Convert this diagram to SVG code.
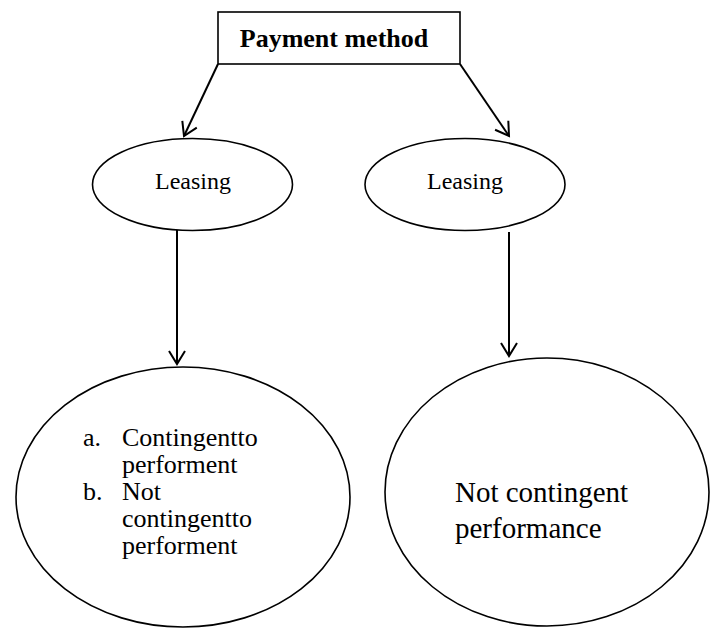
<svg xmlns="http://www.w3.org/2000/svg" width="716" height="629" viewBox="0 0 716 629">
<defs>
<marker id="arr" markerUnits="userSpaceOnUse" markerWidth="20" markerHeight="20" refX="14" refY="9" orient="auto" overflow="visible">
<path d="M1,1 L14,9 L1,17" fill="none" stroke="#000" stroke-width="2"/>
</marker>
</defs>
<style>
.shape{fill:#fff;stroke:#000;stroke-width:1.6}
.conn{stroke:#000;stroke-width:2;fill:none;marker-end:url(#arr)}
.t{font-family:"Liberation Serif","Times New Roman",serif;fill:#000}
</style>
<rect width="716" height="629" fill="#fff"/>
<g id="connectors">
<line class="conn" x1="218" y1="64" x2="184" y2="136"/>
<line class="conn" x1="460" y1="64" x2="509" y2="136"/>
<line class="conn" x1="177" y1="230" x2="177" y2="364"/>
<line class="conn" x1="509" y1="232" x2="509" y2="356"/>
</g>
<g id="payment">
<rect class="shape" x="218" y="12" width="242" height="52"/>
<text class="t" x="334" y="47" text-anchor="middle" font-size="26" font-weight="bold">Payment method</text>
</g>
<g id="leasing-left">
<ellipse class="shape" cx="192.5" cy="184.5" rx="100" ry="46"/>
<text class="t" x="193" y="189" text-anchor="middle" font-size="24">Leasing</text>
</g>
<g id="leasing-right">
<ellipse class="shape" cx="465" cy="184.5" rx="100" ry="46"/>
<text class="t" x="465" y="189" text-anchor="middle" font-size="24">Leasing</text>
</g>
<g id="contingent">
<ellipse class="shape" cx="183" cy="497" rx="167" ry="130"/>
<text class="t" font-size="26">
<tspan x="83" y="446">a.</tspan><tspan x="122" y="446">Contingentto</tspan>
<tspan x="122" y="473">performent</tspan>
<tspan x="83" y="500">b.</tspan><tspan x="122" y="500">Not</tspan>
<tspan x="122" y="527">contingentto</tspan>
<tspan x="122" y="554">performent</tspan>
</text>
</g>
<g id="not-contingent">
<ellipse class="shape" cx="547" cy="492" rx="162" ry="134"/>
<text class="t" font-size="29">
<tspan x="455" y="502">Not contingent</tspan>
<tspan x="455" y="538">performance</tspan>
</text>
</g>
</svg>
